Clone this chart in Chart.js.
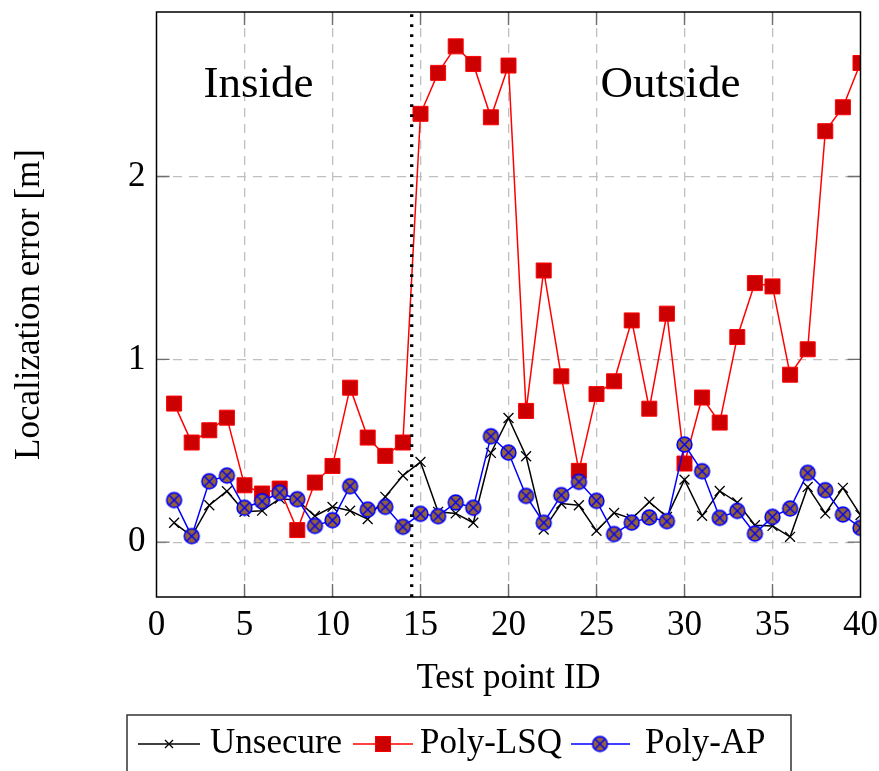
<!DOCTYPE html>
<html><head><meta charset="utf-8">
<script src="https://cdn.jsdelivr.net/npm/chart.js@4/dist/chart.umd.min.js"></script>
<style>html,body{margin:0;padding:0;background:#fff;}canvas{display:block;}</style>
</head><body>
<canvas id="c" width="879" height="771"></canvas>
<script>
// ---------- data ----------
const testPointIds = [1,2,3,4,5,6,7,8,9,10,11,12,13,14,15,16,17,18,19,20,21,22,23,24,25,26,27,28,29,30,31,32,33,34,35,36,37,38,39,40];
const unsecure = [0.106,0.033,0.202,0.279,0.166,0.172,0.238,0.230,0.143,0.193,0.172,0.126,0.248,0.364,0.439,0.166,0.157,0.106,0.488,0.679,0.470,0.069,0.211,0.202,0.062,0.160,0.128,0.220,0.138,0.342,0.144,0.280,0.217,0.093,0.089,0.029,0.302,0.157,0.297,0.148];
const polyLSQ = [0.758,0.545,0.612,0.681,0.311,0.266,0.293,0.066,0.326,0.417,0.845,0.572,0.472,0.545,2.343,2.567,2.712,2.616,2.324,2.607,0.718,1.486,0.907,0.390,0.810,0.880,1.213,0.730,1.250,0.430,0.791,0.654,1.122,1.417,1.399,0.916,1.055,2.248,2.379,2.621];
const polyAP = [0.230,0.033,0.333,0.364,0.188,0.224,0.270,0.235,0.089,0.120,0.306,0.178,0.193,0.084,0.155,0.142,0.217,0.188,0.579,0.490,0.253,0.106,0.257,0.330,0.226,0.044,0.107,0.135,0.115,0.534,0.388,0.133,0.171,0.047,0.138,0.184,0.379,0.284,0.151,0.078];
const seriesNames = ['Unsecure','Poly-LSQ','Poly-AP'];
const xTicks = [0,5,10,15,20,25,30,35,40];
const yTicks = [0,1,2];
const regionLabels = ['Inside','Outside'];
const regionLabelX = [5.8, 29.2];
const regionLabelY = [2.5, 2.5];
const boundaryX = 14.5;
const xTitle = 'Test point ID';
const yTitle = 'Localization error [m]';

// ---------- styles ----------
const serif = "'Liberation Serif','Times New Roman',serif";
const lsqLine = '#ff0000', lsqFill = '#cc0000';
const apLine = '#0000ff', apFill = '#956337';
const gridColor = '#bfbfbf';

function makeOtimes(r){
  const s = Math.ceil(2*r+4);
  const c = document.createElement('canvas'); c.width = s; c.height = s;
  const g = c.getContext('2d'); const m = s/2;
  g.beginPath(); g.arc(m,m,r,0,Math.PI*2); g.fillStyle = apFill; g.fill();
  g.lineWidth = 1.6; g.strokeStyle = apLine; g.stroke();
  const d = r*Math.SQRT1_2;
  g.beginPath(); g.moveTo(m-d,m-d); g.lineTo(m+d,m+d); g.moveTo(m-d,m+d); g.lineTo(m+d,m-d);
  g.lineWidth = 1.4; g.stroke();
  return c;
}
const otimes = makeOtimes(7.4);

Chart.defaults.font.family = serif;
Chart.defaults.color = '#000';

const overlay = {
  id: 'overlay',
  afterDatasetsDraw(chart){
    const {ctx, chartArea:a, scales:{x}} = chart;
    const bx = x.getPixelForValue(boundaryX);
    ctx.save();
    ctx.strokeStyle = '#000'; ctx.lineWidth = 3.3; ctx.setLineDash([2.7,7.3]);
    ctx.beginPath(); ctx.moveTo(bx, a.bottom); ctx.lineTo(bx, a.top); ctx.stroke();
    ctx.restore();
  },
  afterDraw(chart){
    const {ctx, chartArea:a, scales:{x, y}} = chart;
    ctx.save();
    // inner ticks
    ctx.strokeStyle = '#6e6e6e'; ctx.lineWidth = 1.4;
    const tl = 13;
    xTicks.forEach(v => {
      if (v === x.min || v === x.max) return;
      const px = x.getPixelForValue(v);
      ctx.beginPath(); ctx.moveTo(px, a.bottom); ctx.lineTo(px, a.bottom - tl);
      ctx.moveTo(px, a.top); ctx.lineTo(px, a.top + tl); ctx.stroke();
    });
    yTicks.forEach(v => {
      const py = y.getPixelForValue(v);
      ctx.beginPath(); ctx.moveTo(a.left, py); ctx.lineTo(a.left + tl, py);
      ctx.moveTo(a.right, py); ctx.lineTo(a.right - tl, py); ctx.stroke();
    });
    // frame
    ctx.strokeStyle = '#000'; ctx.lineWidth = 1.5;
    ctx.strokeRect(a.left, a.top, a.right - a.left, a.bottom - a.top);
    // region labels
    ctx.fillStyle = '#000'; ctx.font = '45px ' + serif;
    ctx.textAlign = 'center'; ctx.textBaseline = 'middle';
    regionLabels.forEach((t,i) => {
      ctx.fillText(t, x.getPixelForValue(regionLabelX[i]), y.getPixelForValue(regionLabelY[i]));
    });
    // legend
    const ly = 744, base = 753;
    ctx.strokeStyle = '#333'; ctx.lineWidth = 1.5;
    ctx.strokeRect(127, 715, 664, 80);
    ctx.font = '35px ' + serif; ctx.textAlign = 'left'; ctx.textBaseline = 'alphabetic';
    // Unsecure
    ctx.strokeStyle = '#000'; ctx.lineWidth = 1.3;
    ctx.beginPath(); ctx.moveTo(138, ly); ctx.lineTo(200, ly); ctx.stroke();
    ctx.beginPath(); ctx.moveTo(165, ly-4); ctx.lineTo(173, ly+4); ctx.moveTo(165, ly+4); ctx.lineTo(173, ly-4); ctx.stroke();
    ctx.fillText(seriesNames[0], 210, base);
    // Poly-LSQ
    ctx.strokeStyle = lsqLine; ctx.lineWidth = 1.5;
    ctx.beginPath(); ctx.moveTo(353, ly); ctx.lineTo(413, ly); ctx.stroke();
    ctx.fillStyle = lsqFill; ctx.fillRect(383-7.5, ly-7.5, 15, 15);
    ctx.lineWidth = 1; ctx.strokeRect(383-7.5, ly-7.5, 15, 15);
    ctx.fillStyle = '#000'; ctx.fillText(seriesNames[1], 420, base);
    // Poly-AP
    ctx.strokeStyle = apLine; ctx.lineWidth = 1.5;
    ctx.beginPath(); ctx.moveTo(571, ly); ctx.lineTo(630, ly); ctx.stroke();
    ctx.drawImage(otimes, 600 - otimes.width/2, ly - otimes.height/2);
    ctx.fillText(seriesNames[2], 645, base);
    ctx.restore();
  }
};

const toXY = arr => testPointIds.map((id,i) => ({x:id, y:arr[i]}));

new Chart(document.getElementById('c'), {
  type: 'line',
  data: {
    datasets: [
      { label: seriesNames[0], data: toXY(unsecure), borderColor:'#000', borderWidth:1.5,
        pointStyle:'crossRot', pointRadius:7, pointBorderColor:'#000', pointBorderWidth:1.3,
        pointBackgroundColor:'#000', tension:0, order:3 },
      { label: seriesNames[1], data: toXY(polyLSQ), borderColor:lsqLine, borderWidth:1.5,
        pointStyle:'rect', pointRadius:10.6, pointBorderColor:lsqLine, pointBorderWidth:1,
        pointBackgroundColor:lsqFill, tension:0, order:2 },
      { label: seriesNames[2], data: toXY(polyAP), borderColor:apLine, borderWidth:1.5,
        pointStyle:otimes, pointRadius:8, tension:0, order:1 }
    ]
  },
  options: {
    responsive:false, animation:false, devicePixelRatio:1,
    events: [],
    layout: { padding: { top:12, right:18.5, left:0, bottom:71 } },
    plugins: { legend:{display:false}, tooltip:{enabled:false} },
    scales: {
      x: {
        type:'linear', min:0, max:40,
        afterBuildTicks: s => { s.ticks = xTicks.map(v => ({value:v})); },
        afterFit: s => { s.height = 103; s.paddingLeft = 0; s.paddingRight = 0; },
        grid: { drawTicks:false, lineWidth:1.3,
          color: c => (c.tick && (c.tick.value === 0 || c.tick.value === 40)) ? 'rgba(0,0,0,0)' : gridColor },
        border: { display:false, dash:[9,7] },
        ticks: { font:{size:35}, padding:8, maxRotation:0, autoSkip:false, color:'#000' },
        title: { display:true, text:xTitle, font:{size:35}, padding:{top:0,bottom:0}, color:'#000' }
      },
      y: {
        type:'linear', min:-0.3, max:2.9,
        afterBuildTicks: s => { s.ticks = yTicks.map(v => ({value:v})); },
        afterFit: s => { s.width = 156.5; s.paddingTop = 0; s.paddingBottom = 0; },
        grid: { drawTicks:false, lineWidth:1.3, color: gridColor },
        border: { display:false, dash:[9,7] },
        ticks: { font:{size:35}, padding:11, color:'#000' },
        title: { display:true, text:yTitle, font:{size:35}, padding:{top:9,bottom:0}, color:'#000' }
      }
    }
  },
  plugins: [overlay]
});
</script>
</body></html>
